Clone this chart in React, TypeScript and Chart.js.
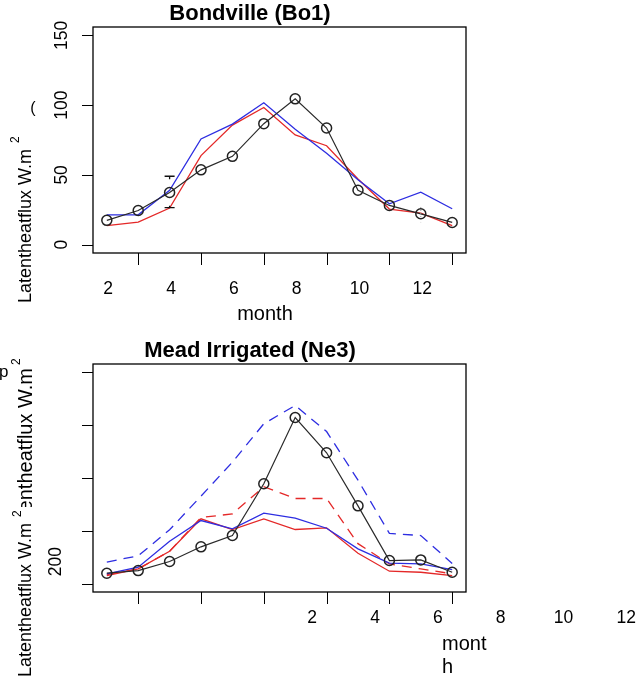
import React, { useEffect, useRef } from 'react';
import { Chart, registerables } from 'chart.js';

Chart.register(...registerables);

const FONT = '"Liberation Sans", Arial, Helvetica, sans-serif';

// ---------- data ----------
const months = [1, 2, 3, 4, 5, 6, 7, 8, 9, 10, 11, 12];
const xTicks = [2, 4, 6, 8, 10, 12];
const xTickLabels = ['2', '4', '6', '8', '10', '12'];

// Bondville (Bo1)
const topTitle = 'Bondville (Bo1)';
const topYTicks = [0, 50, 100, 150];
const topYTickLabels = ['0', '50', '100', '150'];
const boObserved = [17.4, 24.5, 37.4, 53.6, 63.3, 86.7, 104.5, 83.6, 39.0, 28.1, 22.1, 15.9];
const boBlue = [21.4, 21.4, 39.0, 75.7, 86.4, 101.7, 82.7, 65.5, 46.5, 29.3, 37.6, 25.7];
const boRed = [13.6, 16.2, 26.2, 63.8, 85.7, 98.3, 78.6, 70.9, 47.0, 25.5, 22.6, 13.6];
// error bars (month, low, high)
const boErrMonth = [3, 11];
const boErrLow = [26.5, 16];
const boErrHigh = [49, 27];

// Mead Irrigated (Ne3)
const botTitle = 'Mead Irrigated (Ne3)';
const botYTicks = [0, 50, 100, 150, 200];
const botYLabel = '200';
const neObserved = [9.8, 12.3, 20.9, 34.8, 45.5, 94.5, 157.3, 123.9, 73.6, 21.8, 22.4, 10.7];
const neBlueDashed = [20.4, 26.3, 51.0, 82.8, 115.0, 151.4, 168.7, 144.0, 98.0, 47.5, 45.5, 19.0];
const neRedDashed = [8.5, 13.9, 30.6, 62.6, 66.0, 91.7, 80.6, 80.6, 37.8, 18.6, 13.9, 9.2];
const neBlue = [9.2, 15.5, 40.1, 59.7, 51.8, 66.7, 61.9, 52.4, 32.9, 19.3, 18.6, 13.3];
const neRed = [7.6, 13.9, 30.6, 61.3, 51.2, 61.3, 51.2, 52.8, 28.7, 11.7, 10.7, 7.6];

const xTitle = 'month';
const xTitleA = 'mont';
const xTitleB = 'h';
const yTitle = 'Latentheatflux W.m';
const ySup = '2';

const BLUE = 'rgb(45,45,225)';
const RED = 'rgb(228,40,40)';
const BLACK = '#2a2a2a';

// ---------- helpers ----------
function pts(arr: number[]) {
  return months.map((m, i) => ({ x: m, y: arr[i] }));
}

function lineDs(data: number[], color: string, dash: number[] = []) {
  return {
    data: pts(data),
    borderColor: color,
    borderWidth: 1.3,
    borderDash: dash,
    pointRadius: 0,
    fill: false,
    tension: 0,
  };
}

function obsDs(data: number[]) {
  return {
    data: pts(data),
    borderColor: BLACK,
    borderWidth: 1.2,
    pointRadius: 5,
    pointBorderWidth: 1.5,
    pointBorderColor: '#222',
    pointBackgroundColor: 'rgba(0,0,0,0)',
    fill: false,
    tension: 0,
  };
}

function drawText(
  ctx: CanvasRenderingContext2D,
  s: string,
  x: number,
  y: number,
  size: number,
  o: { bold?: boolean; rot?: boolean; align?: CanvasTextAlign } = {}
) {
  ctx.save();
  ctx.font = `${o.bold ? 'bold ' : ''}${size}px ${FONT}`;
  ctx.fillStyle = '#000';
  ctx.textAlign = o.align || 'center';
  ctx.textBaseline = 'alphabetic';
  ctx.translate(x, y);
  if (o.rot) ctx.rotate(-Math.PI / 2);
  ctx.fillText(s, 0, 0);
  const w = ctx.measureText(s).width;
  ctx.restore();
  return w;
}

function drawFrame(chart: any, yTicks: number[]) {
  const { ctx, chartArea: ca, scales } = chart;
  const x = scales.x;
  const y = scales.y;
  ctx.save();
  ctx.strokeStyle = '#000';
  ctx.lineWidth = 1.3;
  ctx.strokeRect(ca.left, ca.top, ca.width, ca.height);
  ctx.beginPath();
  xTicks.forEach((v) => {
    const px = Math.round(x.getPixelForValue(v)) + 0.5;
    ctx.moveTo(px, ca.bottom);
    ctx.lineTo(px, ca.bottom + 12);
  });
  yTicks.forEach((v) => {
    const py = Math.round(y.getPixelForValue(v)) + 0.5;
    ctx.moveTo(ca.left - 11, py);
    ctx.lineTo(ca.left, py);
  });
  ctx.lineWidth = 1;
  ctx.stroke();
  ctx.restore();
}

const topDecor = {
  id: 'topDecor',
  afterDraw(chart: any) {
    const { ctx } = chart;
    const x = chart.scales.x;
    const y = chart.scales.y;
    drawFrame(chart, topYTicks);

    // error bars
    ctx.save();
    boErrMonth.forEach((m, i) => {
      const px = x.getPixelForValue(m);
      const lo = y.getPixelForValue(boErrLow[i]);
      const hi = y.getPixelForValue(boErrHigh[i]);
      if (i === 0) {
        ctx.strokeStyle = '#111';
        ctx.lineWidth = 1.3;
        ctx.beginPath();
        ctx.moveTo(px - 5, hi);
        ctx.lineTo(px + 5, hi);
        ctx.moveTo(px, hi);
        ctx.lineTo(px, hi + 3);
        ctx.moveTo(px - 5, lo);
        ctx.lineTo(px + 5, lo);
        ctx.moveTo(px, lo);
        ctx.lineTo(px, lo - 2);
        ctx.stroke();
      } else {
        ctx.strokeStyle = '#999';
        ctx.lineWidth = 1;
        ctx.setLineDash([1, 2]);
        ctx.beginPath();
        ctx.moveTo(px, hi);
        ctx.lineTo(px, lo);
        ctx.stroke();
      }
    });
    ctx.restore();

    xTicks.forEach((v, i) => drawText(ctx, xTickLabels[i], x.getPixelForValue(v) - 30, 294, 17.5));
    topYTicks.forEach((v, i) =>
      drawText(ctx, topYTickLabels[i], 67, y.getPixelForValue(v), 17.5, { rot: true })
    );
    drawText(ctx, topTitle, 250, 20, 22, { bold: true });
    drawText(ctx, xTitle, 265, 320, 20);
    const w = drawText(ctx, yTitle, 31, 303, 18, { rot: true, align: 'left' });
    drawText(ctx, ySup, 19, 303 - w - 6, 12, { rot: true, align: 'left' });
    drawText(ctx, '(', 33, 113, 16);
  },
};

const botDecor = {
  id: 'botDecor',
  afterDraw(chart: any) {
    const { ctx } = chart;
    const x = chart.scales.x;
    const y = chart.scales.y;
    drawFrame(chart, botYTicks);

    xTicks.forEach((v, i) => drawText(ctx, xTickLabels[i], x.getPixelForValue(v) + 174, 293, 17.5));
    drawText(ctx, botYLabel, 61, y.getPixelForValue(0) - 22, 17.5, { rot: true });
    drawText(ctx, botTitle, 250, 27, 22, { bold: true });
    drawText(ctx, xTitleA, 442, 320, 20, { align: 'left' });
    drawText(ctx, xTitleB, 442, 343, 20, { align: 'left' });

    // lower y title
    const w1 = drawText(ctx, yTitle, 31, 347, 18, { rot: true, align: 'left' });
    drawText(ctx, ySup, 21, 347 - w1 - 6, 12, { rot: true, align: 'left' });

    // upper (overlapping) y title, partly hidden
    ctx.save();
    ctx.font = `20px ${FONT}`;
    const w2 = ctx.measureText(yTitle).width;
    ctx.beginPath();
    ctx.rect(0, 0, 60, 177);
    ctx.clip();
    drawText(ctx, yTitle, 32, 38 + w2, 20, { rot: true, align: 'left' });
    ctx.restore();
    drawText(ctx, ySup, 20, 35, 12, { rot: true, align: 'left' });

    drawText(ctx, 'p', -1, 47, 17, { align: 'left' });
  },
};

function baseOptions(pad: any, ymin: number, ymax: number) {
  return {
    responsive: false,
    animation: false as const,
    events: [] as any[],
    layout: { padding: pad },
    plugins: { legend: { display: false }, tooltip: { enabled: false }, title: { display: false } },
    scales: {
      x: { type: 'linear' as const, min: 0.56, max: 12.44, display: false },
      y: { type: 'linear' as const, min: ymin, max: ymax, display: false },
    },
  };
}

export default function App() {
  const topRef = useRef<HTMLCanvasElement | null>(null);
  const botRef = useRef<HTMLCanvasElement | null>(null);

  useEffect(() => {
    const c1 = new Chart(topRef.current as HTMLCanvasElement, {
      type: 'line',
      data: {
        datasets: [obsDs(boObserved), lineDs(boBlue, BLUE), lineDs(boRed, RED)] as any,
      },
      options: baseOptions({ left: 93, top: 27, right: 170, bottom: 77 }, -6, 156) as any,
      plugins: [topDecor],
    });
    const c2 = new Chart(botRef.current as HTMLCanvasElement, {
      type: 'line',
      data: {
        datasets: [
          obsDs(neObserved),
          lineDs(neBlue, BLUE),
          lineDs(neRed, RED),
          lineDs(neBlueDashed, BLUE, [10, 7]),
          lineDs(neRedDashed, RED, [10, 7]),
        ] as any,
      },
      options: baseOptions({ left: 93, top: 34, right: 170, bottom: 85 }, -8, 208) as any,
      plugins: [botDecor],
    });
    return () => {
      c1.destroy();
      c2.destroy();
    };
  }, []);

  return (
    <div
      style={{
        position: 'fixed',
        left: 0,
        top: 0,
        width: 636,
        height: 677,
        background: '#fff',
        overflow: 'hidden',
      }}
    >
      <canvas
        ref={topRef}
        width={636}
        height={330}
        style={{ position: 'absolute', left: 0, top: 0, width: 636, height: 330 }}
      />
      <canvas
        ref={botRef}
        width={636}
        height={347}
        style={{ position: 'absolute', left: 0, top: 330, width: 636, height: 347 }}
      />
    </div>
  );
}
